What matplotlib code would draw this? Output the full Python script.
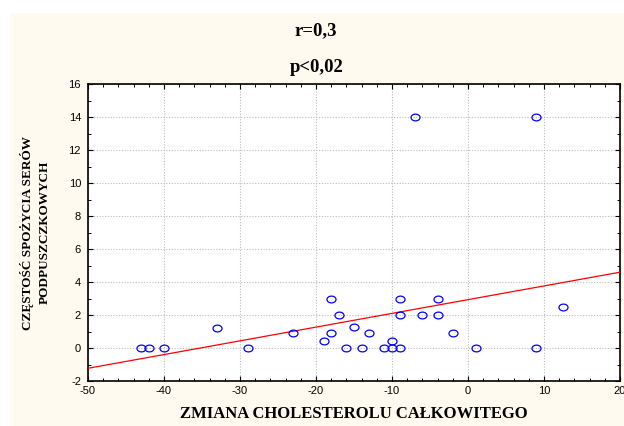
import numpy as np
import matplotlib
matplotlib.use("Agg")
import matplotlib.pyplot as plt
from matplotlib.path import Path
from matplotlib.patches import Rectangle
from matplotlib.ticker import MultipleLocator

plt.rcParams["axes.unicode_minus"] = False

# Data
chol_change = [-43, -42, -40, -33, -29, -23, -19, -18, -18, -17, -16, -15, -14, -13,
               -11, -10, -10, -9, -9, -9, -7, -6, -4, -4, -2, 1, 9, 9, 12.5]
cheese_freq = [0, 0, 0, 1.2, 0, 0.9, 0.45, 3, 0.9, 2, 0, 1.3, 0, 0.9,
               0, 0.45, 0, 3, 2, 0, 14, 2, 3, 2, 0.9, 0, 14, 0, 2.5]
# regression line as drawn in the reference
reg_intercept = 2.93
reg_slope = 0.0832

x_ticks = [-50, -40, -30, -20, -10, 0, 10, 20]
y_ticks = [-2, 0, 2, 4, 6, 8, 10, 12, 14, 16]

title_r = "r=0,3"
title_p = "p<0,02"
xlabel = "ZMIANA CHOLESTEROLU CAŁKOWITEGO"
ylabel = "CZĘSTOŚĆ SPOŻYCIA SERÓW\nPODPUSZCZKOWYCH"

fig = plt.figure(figsize=(6.24, 4.26), dpi=100)
fig.patch.set_facecolor("white")
fig.patches.append(Rectangle((10 / 624, 0), 1 - 10 / 624, 1 - 13 / 426,
                             transform=fig.transFigure, facecolor="#FFFAF0",
                             edgecolor="none", zorder=-10))

ax = fig.add_axes([88 / 624, 1 - 381 / 426, (620 - 88) / 624, (381 - 84) / 426])
ax.set_facecolor("white")

# elliptical open marker
t = np.linspace(0, 2 * np.pi, 40)
ell = Path(np.column_stack([np.cos(t), 0.75 * np.sin(t)]), closed=True)

ax.plot(chol_change, cheese_freq, linestyle="none", marker=ell, markersize=6.5,
        markerfacecolor="none", markeredgecolor="#0000FF", markeredgewidth=0.9, zorder=4)

xl = np.array([x_ticks[0], x_ticks[-1]], dtype=float)
ax.plot(xl, reg_intercept + reg_slope * xl, color="red", linewidth=0.9, zorder=3)

ax.set_xlim(x_ticks[0], x_ticks[-1])
ax.set_ylim(y_ticks[0], y_ticks[-1])
ax.set_xticks(x_ticks)
ax.set_yticks(y_ticks)
ax.xaxis.set_minor_locator(MultipleLocator(2))
ax.yaxis.set_minor_locator(MultipleLocator(1))
ax.tick_params(which="both", direction="in", top=True, right=True, colors="black",
               labelsize=8)
ax.tick_params(which="major", length=3.5, width=0.8)
ax.tick_params(which="minor", length=2, width=0.7)
ax.tick_params(axis="y", which="major", pad=5)
for lab in ax.get_xticklabels() + ax.get_yticklabels():
    lab.set_fontfamily("Liberation Sans")
ax.grid(True, which="major", color="#bbbbbb", linestyle=(0, (1, 1.5)), linewidth=0.8)
ax.set_axisbelow(True)
for s in ax.spines.values():
    s.set_linewidth(1.2)
    s.set_color("black")

ax.set_xlabel(xlabel, family="Liberation Serif", fontweight="bold", fontsize=12, labelpad=7)
ax.set_ylabel(ylabel, family="Liberation Serif", fontweight="bold", fontsize=9.5,
              labelpad=13, linespacing=1.5)

fig.text(316 / 624, 1 - 31 / 426, title_r, family="Liberation Serif", fontweight="bold",
         fontsize=13.5, ha="center", va="center")
fig.text(317 / 624, 1 - 68 / 426, title_p, family="Liberation Serif", fontweight="bold",
         fontsize=13.5, ha="center", va="center")

fig.savefig("out.png", dpi=100, facecolor=fig.get_facecolor())
